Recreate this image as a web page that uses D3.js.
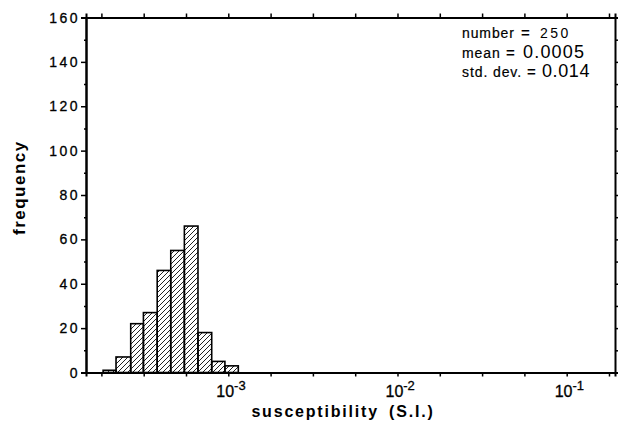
<!DOCTYPE html>
<html>
<head>
<meta charset="utf-8">
<script src="https://cdn.jsdelivr.net/npm/d3@7"></script>
<style>
  html, body { margin: 0; padding: 0; background: #fff; }
  svg { display: block; }
  text { font-family: "Liberation Sans", Arial, Helvetica, sans-serif; fill: #000; }
</style>
</head>
<body>
<script>
// Histogram of magnetic susceptibility (S.I.), logarithmic bins
const binEdges = [1.82e-4, 2.17e-4, 2.65e-4, 3.15e-4, 3.80e-4, 4.57e-4,
                  5.50e-4, 6.62e-4, 7.98e-4, 9.55e-4, 1.146e-3];
const counts = [1, 7, 22, 27, 46, 55, 66, 18, 5, 3];

const yTickValues = [0, 20, 40, 60, 80, 100, 120, 140, 160];
const xLabelExponents = [-3, -2, -1];
const xTickExponents = [-3.75, -3.5, -3.25, -3, -2.75, -2.5, -2.25, -2, -1.75, -1.5, -1.25, -1, -0.75];
const statLabels = ["number", "mean", "std. dev."];
const statValues = ["250", "0.0005", "0.014"];

const W = 619, H = 437;
const frame = { left: 86, right: 615, top: 17.5, bottom: 372.5 };

const svg = d3.select("body").append("svg")
  .attr("width", W).attr("height", H);
svg.append("rect").attr("width", W).attr("height", H).attr("fill", "#fff");

const x = d3.scaleLog()
  .domain([Math.pow(10, -3.841), Math.pow(10, -0.7145)])
  .range([frame.left, frame.right]);
const y = d3.scaleLinear()
  .domain([0, 160])
  .range([frame.bottom, frame.top]);

// diagonal hatching used to fill the bars
const defs = svg.append("defs");
const pat = defs.append("pattern")
  .attr("id", "hatch")
  .attr("patternUnits", "userSpaceOnUse")
  .attr("width", 5).attr("height", 5);
pat.append("path")
  .attr("d", "M-1,1 L1,-1 M0,5 L5,0 M4,6 L6,4")
  .attr("stroke", "#222").attr("stroke-width", 1);

const bins = counts.map((c, i) => ({ x0: binEdges[i], x1: binEdges[i + 1], n: c }));

svg.append("g").selectAll("rect")
  .data(bins)
  .join("rect")
  .attr("x", d => x(d.x0))
  .attr("width", d => x(d.x1) - x(d.x0))
  .attr("y", d => y(d.n))
  .attr("height", d => y(0) - y(d.n))
  .attr("fill", "url(#hatch)")
  .attr("stroke", "#000")
  .attr("stroke-width", 1.6);

// axes
const tickVals = xTickExponents.map(e => Math.pow(10, e));

const bottomAxis = d3.axisBottom(x).tickValues(tickVals).tickSize(4).tickFormat("");
const topAxis = d3.axisTop(x).tickValues(tickVals).tickSize(4).tickFormat("");
const leftAxis = d3.axisLeft(y).tickValues(yTickValues).tickSize(5).tickFormat("");
const leftMinor = d3.axisLeft(y).tickValues(d3.range(10, 160, 20)).tickSize(2).tickFormat("");
const rightAxis = d3.axisRight(y).ticks(16).tickSize(3).tickFormat("");

function styleAxis(g) {
  g.select(".domain").attr("stroke", "#000").attr("stroke-width", 2);
  g.selectAll(".tick line").attr("stroke", "#000").attr("stroke-width", 1.5);
}

svg.append("g").attr("transform", `translate(0,${frame.bottom})`).call(bottomAxis).call(styleAxis);
svg.append("g").attr("transform", `translate(0,${frame.top})`).call(topAxis).call(styleAxis);
svg.append("g").attr("transform", `translate(${frame.left},0)`).call(leftAxis).call(styleAxis);
svg.append("g").attr("transform", `translate(${frame.left},0)`).call(leftMinor).call(styleAxis);
svg.append("g").attr("transform", `translate(${frame.right},0)`).call(rightAxis).call(styleAxis);

// y tick labels
svg.append("g").selectAll("text")
  .data(yTickValues)
  .join("text")
  .attr("x", frame.left - 6)
  .attr("y", d => y(d) + 5)
  .attr("text-anchor", "end")
  .attr("font-size", 14)
  .attr("letter-spacing", 2.5)
  .attr("stroke", "#000").attr("stroke-width", 0.3)
  .text(d => d);

// x tick labels: powers of ten
const xl = svg.append("g").selectAll("text")
  .data(xLabelExponents)
  .join("text")
  .attr("x", d => x(Math.pow(10, d)) - 12)
  .attr("y", 397)
  .attr("font-size", 16)
  .attr("stroke", "#000").attr("stroke-width", 0.3);
xl.append("tspan").text("10");
xl.append("tspan").attr("dy", -7).attr("font-size", 13).text(d => d);

// axis titles
svg.append("text")
  .attr("x", 343).attr("y", 417)
  .attr("text-anchor", "middle")
  .attr("font-size", 16).attr("font-weight", "bold")
  .attr("letter-spacing", 1.8)
  .attr("word-spacing", 4)
  .text("susceptibility (S.I.)");

svg.append("text")
  .attr("transform", "translate(25,235) rotate(-90)")
  .attr("text-anchor", "start")
  .attr("font-size", 17).attr("font-weight", "bold")
  .attr("letter-spacing", 1.5)
  .text("frequency");

// summary statistics block
const statLayout = [
  { y: 38, eqX: 521, valX: 540, size: 14, ls: 2.5 },
  { y: 58, eqX: 506, valX: 523, size: 18, ls: 1.2 },
  { y: 77, eqX: 527, valX: 542, size: 18, ls: 0.6 }
];
const sg = svg.append("g");
statLabels.forEach((lab, i) => {
  const L = statLayout[i];
  sg.append("text").attr("x", 462).attr("y", L.y)
    .attr("font-size", 14).attr("letter-spacing", 0.9)
    .attr("stroke", "#000").attr("stroke-width", 0.2).text(lab);
  sg.append("text").attr("x", L.eqX).attr("y", L.y)
    .attr("font-size", 15).attr("font-weight", "bold").text("=");
  sg.append("text").attr("x", L.valX).attr("y", L.y)
    .attr("font-size", L.size).attr("letter-spacing", L.ls)
    .text(statValues[i]);
});
</script>
</body>
</html>
